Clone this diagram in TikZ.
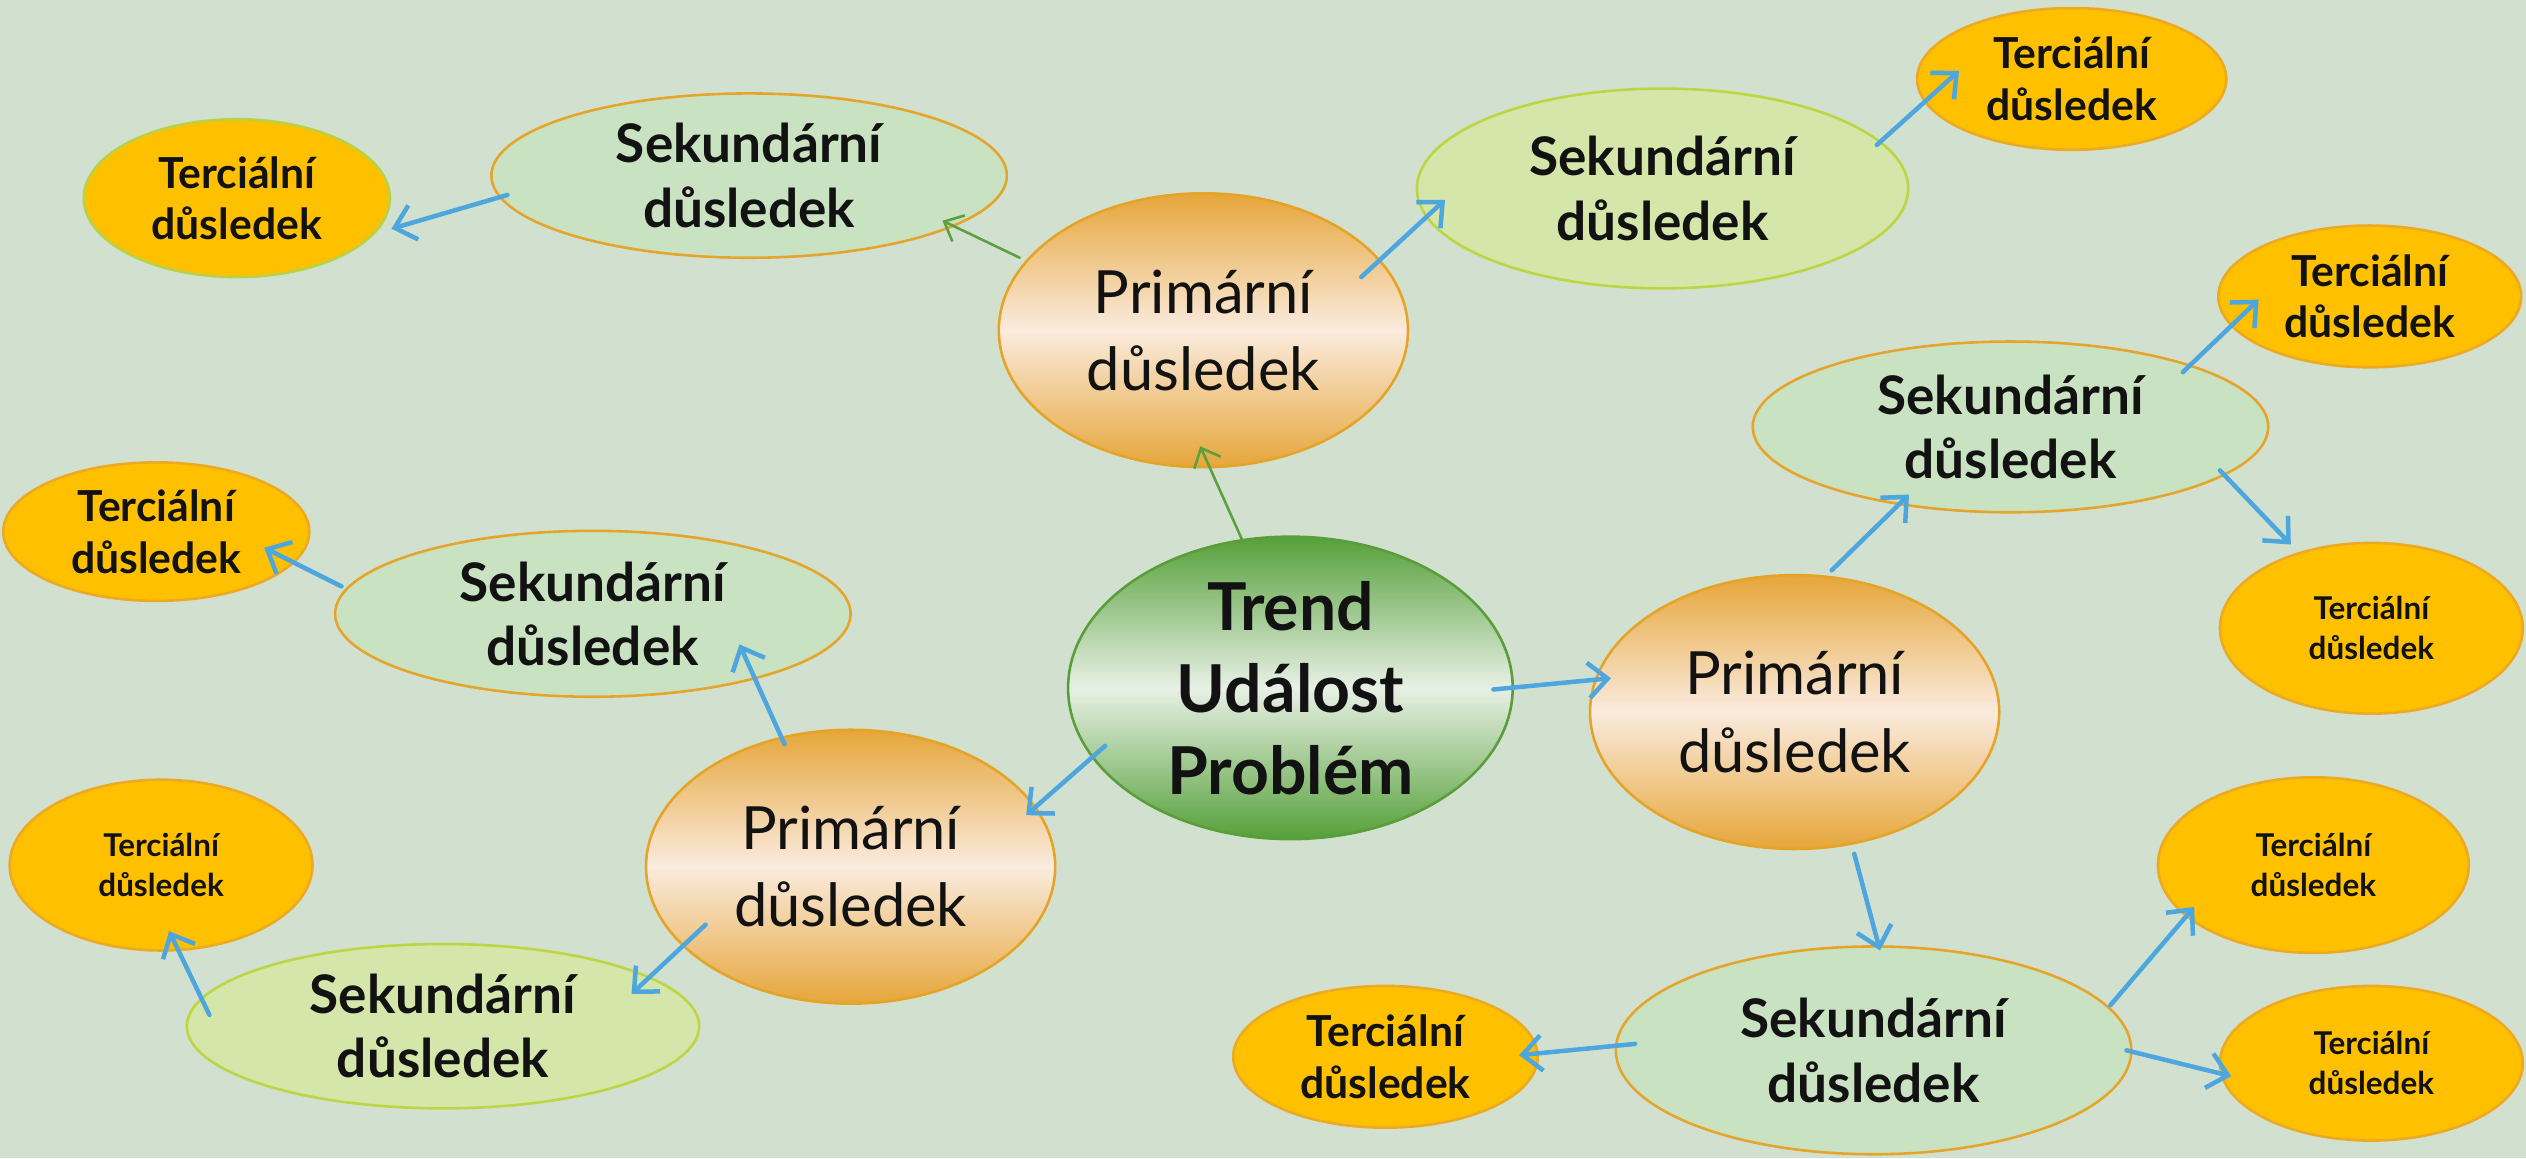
\documentclass[tikz,border=0pt]{standalone}
\usepackage{fontspec}
\setmainfont{Lato}
\usetikzlibrary{shapes.geometric,arrows.meta,calc}
\definecolor{bg}{HTML}{D2E1CF}
\definecolor{primO}{HTML}{E6A63A}
\definecolor{primM}{HTML}{FAEBDE}
\definecolor{primB}{HTML}{E5A428}
\definecolor{ctrG}{HTML}{55A03A}
\definecolor{ctrM}{HTML}{E8F0E5}
\definecolor{ctrB}{HTML}{5A9E3A}
\definecolor{secGf}{HTML}{C9E2C1}
\definecolor{secGb}{HTML}{E5A52C}
\definecolor{secYf}{HTML}{D4E6AA}
\definecolor{secYb}{HTML}{BDD443}
\definecolor{terF}{HTML}{FFC000}
\definecolor{terB}{HTML}{EBAA22}
\definecolor{terBy}{HTML}{B9D147}
\definecolor{arrB}{HTML}{4EA6DE}
\definecolor{arrG}{HTML}{5CA040}
\tikzset{
  x=1pt, y=-1pt,
  base/.style={ellipse, inner sep=0pt, align=center, line width=1.6pt, text=black!93},
  prim/.style={base, draw=primB, top color=primO, bottom color=primO, middle color=primM,
    minimum width=254pt, minimum height=170pt, font=\fontsize{37}{48}\selectfont},
  ctrnode/.style={base, draw=ctrB, top color=ctrG, bottom color=ctrG, middle color=ctrM,
    minimum width=276pt, minimum height=182pt, font=\fontsize{41}{51}\selectfont\bfseries},
  secg/.style={base, draw=secGb, fill=secGf, font=\fontsize{33}{40}\selectfont\bfseries},
  secy/.style={base, draw=secYb, fill=secYf, font=\fontsize{33}{40}\selectfont\bfseries},
  terbig/.style={base, draw=terB, fill=terF, font=\fontsize{26.5}{32}\selectfont\bfseries},
  tersmall/.style={base, draw=terB, fill=terF, font=\fontsize{19.5}{25}\selectfont\bfseries},
  barrow/.style={draw=arrB, line width=2.8pt, line cap=round, -{Straight Barb[length=12pt,width=22pt,line width=2.8pt]}},
  garrow/.style={draw=arrG, line width=1.6pt, line cap=round, -{Straight Barb[length=10pt,width=18pt,line width=1.6pt]}},
}
\begin{document}
\begin{tikzpicture}
\fill[bg] (0,0) rectangle (1568,719);
\useasboundingbox (0,0) rectangle (1568,719);
% central and primary
\node[ctrnode] (c) at (801,427) {Trend\\Událost\\Problém};
\node[prim] (tp) at (747,205) {Primární\\důsledek};
\node[prim] (rp) at (1114,442) {Primární\\důsledek};
\node[prim] (lp) at (528,538) {Primární\\důsledek};
% secondary
\node[secg, minimum width=320pt, minimum height=102pt] (s1) at (465,109) {Sekundární\\důsledek};
\node[secy, minimum width=305pt, minimum height=124pt] (s2) at (1032,117) {Sekundární\\důsledek};
\node[secg, minimum width=320pt, minimum height=106pt] (s3) at (1248,265) {Sekundární\\důsledek};
\node[secg, minimum width=320pt, minimum height=103pt] (s4) at (368,381) {Sekundární\\důsledek};
\node[secy, minimum width=318pt, minimum height=102pt] (s5) at (275,637) {Sekundární\\důsledek};
\node[secg, minimum width=320pt, minimum height=129pt] (s6) at (1163,652) {Sekundární\\důsledek};
% tertiary
\node[terbig, draw=terBy, minimum width=190pt, minimum height=98pt] (t1) at (147,123) {Terciální\\důsledek};
\node[terbig, minimum width=192pt, minimum height=88pt] (t2) at (1286,49) {Terciální\\důsledek};
\node[terbig, minimum width=188pt, minimum height=88pt] (t3) at (1471,184) {Terciální\\důsledek};
\node[tersmall, minimum width=188pt, minimum height=106pt] (t4) at (1472,390) {Terciální\\důsledek};
\node[terbig, minimum width=190pt, minimum height=86pt] (t5) at (97,330) {Terciální\\důsledek};
\node[tersmall, minimum width=188pt, minimum height=106pt] (t6) at (100,537) {Terciální\\důsledek};
\node[terbig, minimum width=189pt, minimum height=88pt] (t7) at (860,656) {Terciální\\důsledek};
\node[tersmall, minimum width=193pt, minimum height=109pt] (t8) at (1436,537) {Terciální\\důsledek};
\node[tersmall, minimum width=188pt, minimum height=96pt] (t9) at (1472,660) {Terciální\\důsledek};
% connectors
\draw[garrow] ($(c)+(-30,-92)$) -- ($(tp)+(-2,72)$);
\draw[garrow] ($(tp)+(-114,-45)$) -- ($(s1)+(120,28)$);
\draw[barrow] ($(tp)+(98,-33)$) -- ($(s2)+(-135,7)$);
\draw[barrow] ($(s1)+(-150,12)$) -- ($(t1)+(96,19)$);
\draw[barrow] ($(s2)+(133,-27)$) -- ($(t2)+(-70,-5)$);
\draw[barrow] ($(c)+(126,1)$) -- ($(rp)+(-114,-21)$);
\draw[barrow] ($(rp)+(23,-88)$) -- ($(s3)+(-63,42)$);
\draw[barrow] ($(s3)+(107,-34)$) -- ($(t3)+(-69,2)$);
\draw[barrow] ($(s3)+(130,27)$) -- ($(t4)+(-50,-52)$);
\draw[barrow] ($(rp)+(37,88)$) -- ($(s6)+(4,-62)$);
\draw[barrow] ($(s6)+(-148,-4)$) -- ($(t7)+(83,-1)$);
\draw[barrow] ($(s6)+(147,-28)$) -- ($(t8)+(-74,26)$);
\draw[barrow] ($(s6)+(157,0)$) -- ($(t9)+(-87,8)$);
\draw[barrow] ($(c)+(-115,36)$) -- ($(lp)+(109,-32)$);
\draw[barrow] ($(lp)+(-41,-76)$) -- ($(s4)+(91,19)$);
\draw[barrow] ($(s4)+(-156,-17)$) -- ($(t5)+(67,10)$);
\draw[barrow] ($(lp)+(-90,36)$) -- ($(s5)+(117,-20)$);
\draw[barrow] ($(s5)+(-145,-7)$) -- ($(t6)+(5,41)$);
\end{tikzpicture}
\end{document}
